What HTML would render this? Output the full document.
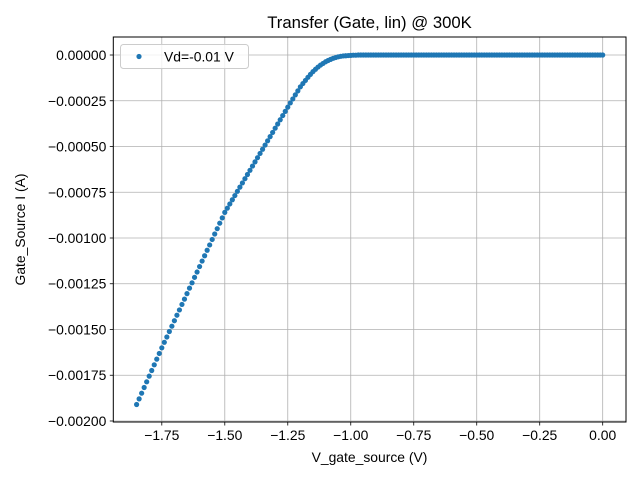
<!DOCTYPE html>
<html><head><meta charset="utf-8">
<style>
html,body{margin:0;padding:0;background:#fff;}
svg{display:block;font-family:"Liberation Sans","DejaVu Sans",sans-serif;}
</style></head>
<body>
<svg id="chart" width="640" height="480" viewBox="0 0 640 480">
  <rect x="0" y="0" width="640" height="480" fill="#fff"/>
  <g id="grid"></g>
  <g id="points"></g>
  <rect x="113.3" y="37" width="512.7" height="385" fill="none" stroke="#000" stroke-width="1"/>
  <g id="xticks"></g>
  <g id="yticks"></g>
  <text x="369.5" y="28" text-anchor="middle" font-size="16.7" fill="#000">Transfer (Gate, lin) @ 300K</text>
  <text x="369.5" y="462" text-anchor="middle" font-size="13.9" fill="#000">V_gate_source (V)</text>
  <text transform="translate(25,229.5) rotate(-90)" text-anchor="middle" font-size="13.9" fill="#000">Gate_Source I (A)</text>
  <g>
    <rect x="120.5" y="44.5" width="128" height="24" rx="3" fill="#fff" fill-opacity="0.8" stroke="#ccc" stroke-width="1"/>
    <circle cx="139" cy="56.5" r="2.6" fill="#1f77b4"/>
    <text x="164" y="61.5" font-size="13.9" fill="#000">Vd=-0.01 V</text>
  </g>
</svg>
<script>
const xTicks = [-1.75, -1.50, -1.25, -1.00, -0.75, -0.50, -0.25, 0.00];
const xTickLabels = ["\u22121.75","\u22121.50","\u22121.25","\u22121.00","\u22120.75","\u22120.50","\u22120.25","0.00"];
const yTicks = [0, -0.00025, -0.0005, -0.00075, -0.001, -0.00125, -0.0015, -0.00175, -0.002];
const yTickLabels = ["0.00000","\u22120.00025","\u22120.00050","\u22120.00075","\u22120.00100","\u22120.00125","\u22120.00150","\u22120.00175","\u22120.00200"];
const gateVoltages = [
-1.85,-1.84,-1.83,-1.82,-1.81,-1.80,-1.79,-1.78,-1.77,-1.76,-1.75,-1.74,-1.73,-1.72,-1.71,-1.70,-1.69,-1.68,-1.67,-1.66,
-1.65,-1.64,-1.63,-1.62,-1.61,-1.60,-1.59,-1.58,-1.57,-1.56,-1.55,-1.54,-1.53,-1.52,-1.51,-1.50,-1.49,-1.48,-1.47,-1.46,
-1.45,-1.44,-1.43,-1.42,-1.41,-1.40,-1.39,-1.38,-1.37,-1.36,-1.35,-1.34,-1.33,-1.32,-1.31,-1.30,-1.29,-1.28,-1.27,-1.26,
-1.25,-1.24,-1.23,-1.22,-1.21,-1.20,-1.19,-1.18,-1.17,-1.16,-1.15,-1.14,-1.13,-1.12,-1.11,-1.10,-1.09,-1.08,-1.07,-1.06,
-1.05,-1.04,-1.03,-1.02,-1.01,-1.00,-0.99,-0.98,-0.97,-0.96,-0.95,-0.94,-0.93,-0.92,-0.91,-0.90,-0.89,-0.88,-0.87,-0.86,
-0.85,-0.84,-0.83,-0.82,-0.81,-0.80,-0.79,-0.78,-0.77,-0.76,-0.75,-0.74,-0.73,-0.72,-0.71,-0.70,-0.69,-0.68,-0.67,-0.66,
-0.65,-0.64,-0.63,-0.62,-0.61,-0.60,-0.59,-0.58,-0.57,-0.56,-0.55,-0.54,-0.53,-0.52,-0.51,-0.50,-0.49,-0.48,-0.47,-0.46,
-0.45,-0.44,-0.43,-0.42,-0.41,-0.40,-0.39,-0.38,-0.37,-0.36,-0.35,-0.34,-0.33,-0.32,-0.31,-0.30,-0.29,-0.28,-0.27,-0.26,
-0.25,-0.24,-0.23,-0.22,-0.21,-0.20,-0.19,-0.18,-0.17,-0.16,-0.15,-0.14,-0.13,-0.12,-0.11,-0.10,-0.09,-0.08,-0.07,-0.06,
-0.05,-0.04,-0.03,-0.02,-0.01,0.00];
const currents_mA = [
-1.910,-1.879,-1.848,-1.817,-1.786,-1.755,-1.724,-1.693,-1.662,-1.631,-1.600,-1.570,-1.541,-1.511,-1.482,-1.452,-1.422,-1.393,-1.363,-1.334,
-1.304,-1.274,-1.245,-1.215,-1.186,-1.156,-1.126,-1.097,-1.067,-1.038,-1.008,-0.978,-0.949,-0.919,-0.890,-0.860,-0.837,-0.814,-0.791,-0.768,
-0.745,-0.722,-0.699,-0.676,-0.653,-0.630,-0.607,-0.584,-0.561,-0.538,-0.515,-0.492,-0.469,-0.446,-0.423,-0.400,-0.377,-0.354,-0.331,-0.308,
-0.285,-0.262,-0.240,-0.218,-0.196,-0.174,-0.156,-0.139,-0.122,-0.106,-0.091,-0.078,-0.066,-0.055,-0.046,-0.037,-0.030,-0.024,-0.018,-0.014,
-0.010,-0.007,-0.005,-0.004,-0.003,-0.002,-0.001,-0.001,0,0,0,0,0,0,0,0,0,0,0,0,
0,0,0,0,0,0,0,0,0,0,0,0,0,0,0,0,0,0,0,0,
0,0,0,0,0,0,0,0,0,0,0,0,0,0,0,0,0,0,0,0,
0,0,0,0,0,0,0,0,0,0,0,0,0,0,0,0,0,0,0,0,
0,0,0,0,0,0,0,0,0,0,0,0,0,0,0,0,0,0,0,0,
0,0,0,0,0,0];

const NS = "http://www.w3.org/2000/svg";
const AX = {left:113.3, right:626, top:37, bottom:422};
const X0 = -1.9425, X1 = 0.0925;
const Y0 = -0.0020055, Y1 = 0.0000984;
function xScale(v){ return AX.left + (v - X0) / (X1 - X0) * (AX.right - AX.left); }
function yScale(v){ return AX.bottom - (v - Y0) / (Y1 - Y0) * (AX.bottom - AX.top); }
function mk(tag, attrs, parent){
  const e = document.createElementNS(NS, tag);
  for (const k in attrs) e.setAttribute(k, attrs[k]);
  parent.appendChild(e);
  return e;
}
const grid = document.getElementById('grid');
const gx = document.getElementById('xticks');
const gy = document.getElementById('yticks');
xTicks.forEach((v, i) => {
  const x = xScale(v);
  const gl = mk('line', {x1:x, x2:x, y1:AX.top, y2:AX.bottom, stroke:'#b0b0b0', 'stroke-width':0.8}, grid);
  
  
  const tl = mk('line', {x1:x, x2:x, y1:AX.bottom, y2:AX.bottom+3.5, stroke:'#000', 'stroke-width':0.8}, gx);
  
  
  const t = mk('text', {x:x, y:AX.bottom+18, 'text-anchor':'middle', 'font-size':13.9, fill:'#000'}, gx);
  t.textContent = xTickLabels[i];
  
  
});
yTicks.forEach((v, i) => {
  const y = yScale(v);
  const gl = mk('line', {x1:AX.left, x2:AX.right, y1:y, y2:y, stroke:'#b0b0b0', 'stroke-width':0.8}, grid);
  
  
  const tl = mk('line', {x1:AX.left-3.5, x2:AX.left, y1:y, y2:y, stroke:'#000', 'stroke-width':0.8}, gy);
  
  
  const t = mk('text', {x:AX.left-7, y:y+5, 'text-anchor':'end', 'font-size':13.9, fill:'#000'}, gy);
  t.textContent = yTickLabels[i];
  
  
});
const pts = document.getElementById('points');
gateVoltages.forEach((v, i) => {
  const c = mk('circle', {cx:xScale(v), cy:yScale(currents_mA[i]*1e-3), r:2.6, fill:'#1f77b4'}, pts);
  
  
});
</script>
</body></html>
